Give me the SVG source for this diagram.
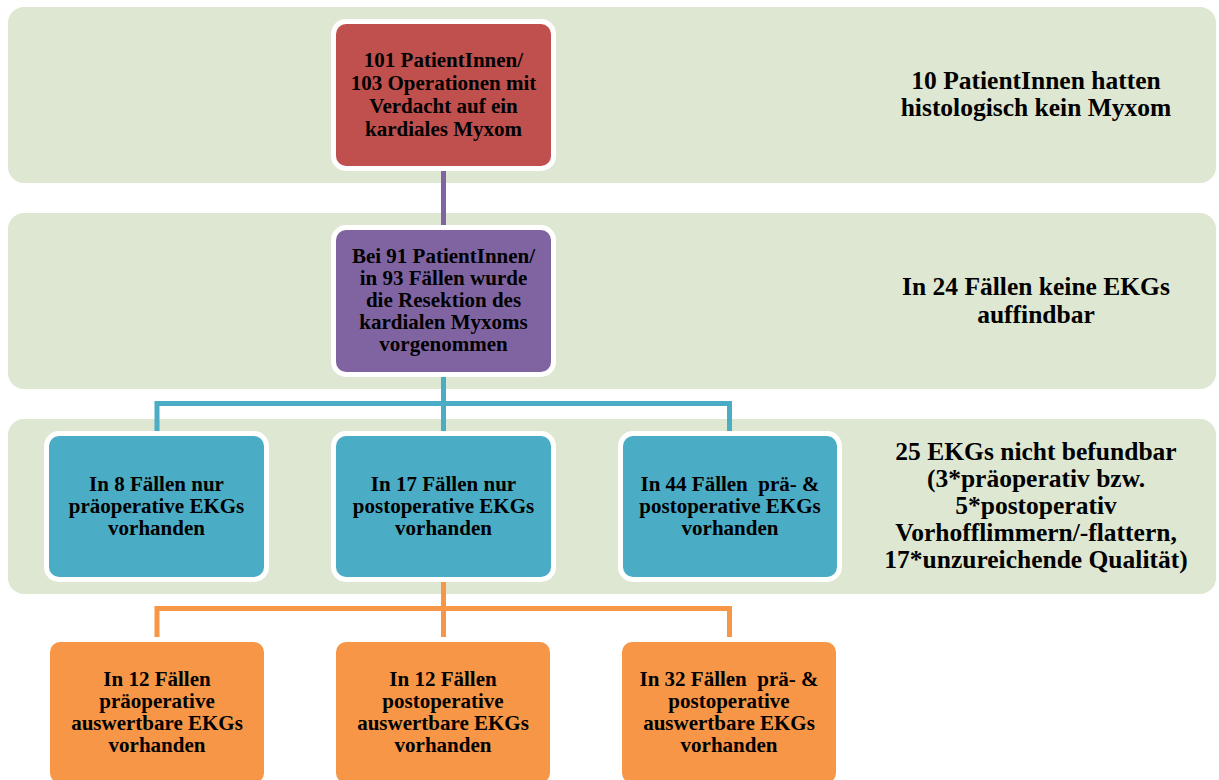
<svg xmlns="http://www.w3.org/2000/svg" width="1219" height="780" viewBox="0 0 1219 780">
<style>
.band{fill:#DEE7D2}
.box{stroke:#FFFFFF;stroke-width:10;paint-order:stroke}
.red{fill:#C0504D}.purple{fill:#8064A2}.blue{fill:#4BACC6}.orange{fill:#F79646}
text{font-family:"Liberation Serif","Times New Roman",serif;font-weight:bold;fill:#000;text-anchor:middle}
.t{font-size:21px}
.side{font-size:25.5px}
.conn{fill:none;stroke-width:5;stroke-linejoin:miter}
</style>
<rect width="1219" height="780" fill="#FFFFFF"/>
<g id="bands">
<rect class="band" x="8" y="7" width="1208" height="176" rx="16"/>
<rect class="band" x="8" y="213" width="1208" height="176" rx="16"/>
<rect class="band" x="8" y="419" width="1208" height="175" rx="16"/>
</g>
<g id="connectors">
<line class="conn" x1="443.5" y1="168" x2="443.5" y2="228" stroke="#8064A2"/>
<path class="conn" d="M443.5 374 V433 M157 433 V403.5 H729.5 V433" stroke="#4BACC6"/>
<path class="conn" d="M443.5 580 V637 M157 637 V608.5 H729.5 V637" stroke="#F79646"/>
</g>
<g id="node-top">
<rect class="box red" x="336" y="24" width="215" height="142" rx="10"/>
<text class="t" x="443.5"><tspan x="443.5" y="67">101 PatientInnen/</tspan><tspan x="443.5" y="90">103 Operationen mit</tspan><tspan x="443.5" y="113">Verdacht auf ein</tspan><tspan x="443.5" y="136">kardiales Myxom</tspan></text>
</g>
<g id="node-resection">
<rect class="box purple" x="336" y="230" width="215" height="142" rx="10"/>
<text class="t"><tspan x="443.5" y="263">Bei 91 PatientInnen/</tspan><tspan x="443.5" y="285">in 93 Fällen wurde</tspan><tspan x="443.5" y="307">die Resektion des</tspan><tspan x="443.5" y="329">kardialen Myxoms</tspan><tspan x="443.5" y="351">vorgenommen</tspan></text>
</g>
<g id="node-pre">
<rect class="box blue" x="49" y="436" width="215" height="141" rx="10"/>
<text class="t"><tspan x="156.5" y="491">In 8 Fällen nur</tspan><tspan x="156.5" y="513">präoperative EKGs</tspan><tspan x="156.5" y="535">vorhanden</tspan></text>
</g>
<g id="node-post">
<rect class="box blue" x="336" y="436" width="215" height="141" rx="10"/>
<text class="t"><tspan x="443.5" y="491">In 17 Fällen nur</tspan><tspan x="443.5" y="513">postoperative EKGs</tspan><tspan x="443.5" y="535">vorhanden</tspan></text>
</g>
<g id="node-both">
<rect class="box blue" x="623" y="436" width="214" height="141" rx="10"/>
<text class="t" xml:space="preserve"><tspan x="730" y="491">In 44 Fällen  prä- &amp;</tspan><tspan x="730" y="513">postoperative EKGs</tspan><tspan x="730" y="535">vorhanden</tspan></text>
</g>
<g id="node-eval-pre">
<rect class="box orange" x="50" y="642" width="214" height="141" rx="10"/>
<text class="t"><tspan x="157" y="686">In 12 Fällen</tspan><tspan x="157" y="708">präoperative</tspan><tspan x="157" y="730">auswertbare EKGs</tspan><tspan x="157" y="752">vorhanden</tspan></text>
</g>
<g id="node-eval-post">
<rect class="box orange" x="336" y="642" width="214" height="141" rx="10"/>
<text class="t"><tspan x="443" y="686">In 12 Fällen</tspan><tspan x="443" y="708">postoperative</tspan><tspan x="443" y="730">auswertbare EKGs</tspan><tspan x="443" y="752">vorhanden</tspan></text>
</g>
<g id="node-eval-both">
<rect class="box orange" x="622" y="642" width="214" height="141" rx="10"/>
<text class="t" xml:space="preserve"><tspan x="729" y="686">In 32 Fällen  prä- &amp;</tspan><tspan x="729" y="708">postoperative</tspan><tspan x="729" y="730">auswertbare EKGs</tspan><tspan x="729" y="752">vorhanden</tspan></text>
</g>
<g id="note-1">
<text class="side"><tspan x="1036" y="89">10 PatientInnen hatten</tspan><tspan x="1036" y="116">histologisch kein Myxom</tspan></text>
</g>
<g id="note-2">
<text class="side"><tspan x="1036" y="295">In 24 Fällen keine EKGs</tspan><tspan x="1036" y="323">auffindbar</tspan></text>
</g>
<g id="note-3">
<text class="side"><tspan x="1036" y="460">25 EKGs nicht befundbar</tspan><tspan x="1036" y="487">(3*präoperativ bzw.</tspan><tspan x="1036" y="514">5*postoperativ</tspan><tspan x="1036" y="541">Vorhofflimmern/-flattern,</tspan><tspan x="1036" y="568">17*unzureichende Qualität)</tspan></text>
</g>
</svg>
